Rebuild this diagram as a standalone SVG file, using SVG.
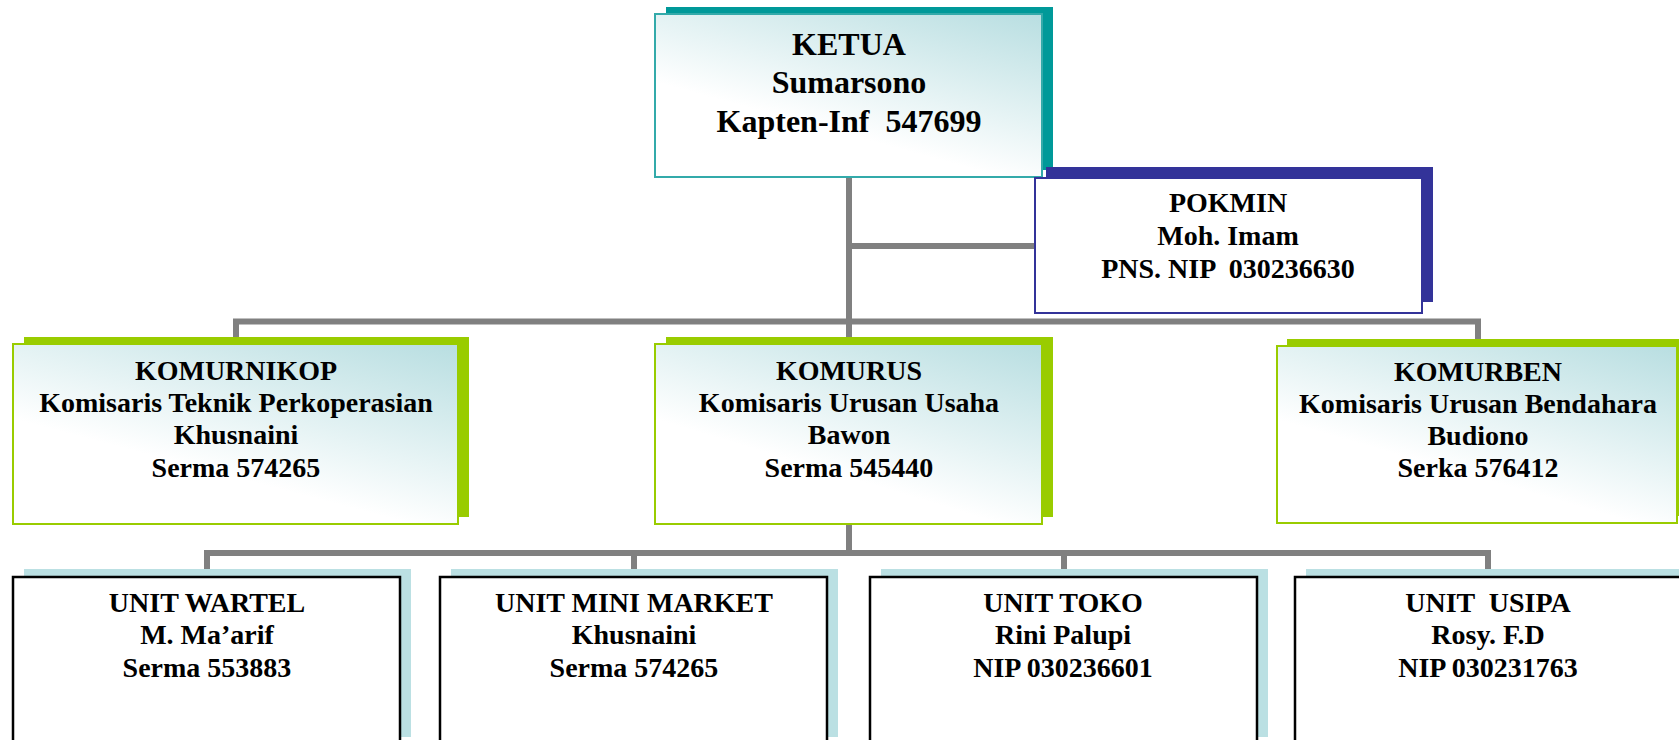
<svg xmlns="http://www.w3.org/2000/svg" width="1679" height="740" viewBox="0 0 1679 740">
<defs>
<linearGradient id="g" x1="100%" y1="0%" x2="35%" y2="100%">
<stop offset="0" stop-color="#b8dee1"/>
<stop offset="0.75" stop-color="#ffffff"/>
</linearGradient>
<style>
.t{font-family:"Liberation Serif","Times New Roman",serif;font-weight:bold;text-anchor:middle;fill:#000}
.t32{font-size:32px}
.t28{font-size:28px}
.con{fill:none;stroke:#808080;stroke-width:6}
.sh-teal{fill:#009999}
.sh-navy{fill:#333399}
.sh-green{fill:#99cc00}
.sh-blue{fill:#bbe0e3}
.f-teal{fill:url(#g);stroke:#33aaaa;stroke-width:2}
.f-navy{fill:#ffffff;stroke:#333399;stroke-width:2}
.f-green{fill:url(#g);stroke:#99cc00;stroke-width:2}
.f-unit{fill:#ffffff;stroke:#000000;stroke-width:2.5}
</style>
</defs>
<rect width="1679" height="740" fill="#ffffff"/>
<g id="connectors">
<path class="con" d="M849,170 V345"/>
<path class="con" d="M849,246 H1036"/>
<path class="con" d="M236,345 V321.5 H1478 V345"/>
<path class="con" d="M849,515 V553"/>
<path class="con" d="M207,572 V553 H1488 V572"/>
<path class="con" d="M634,553 V572"/>
<path class="con" d="M1064,553 V572"/>
</g>
<g id="ketua">
<rect class="sh-teal" x="666" y="7" width="387" height="163"/>
<rect class="f-teal" x="655" y="14" width="387" height="163"/>
<text class="t t32" x="849" y="55">KETUA</text>
<text class="t t32" x="849" y="93">Sumarsono</text>
<text class="t t32" x="849" y="132" xml:space="preserve">Kapten-Inf  547699</text>
</g>
<g id="pokmin">
<rect class="sh-navy" x="1046" y="167" width="387" height="135"/>
<rect class="f-navy" x="1035" y="178" width="387" height="135"/>
<text class="t t28" x="1228" y="212">POKMIN</text>
<text class="t t28" x="1228" y="245">Moh. Imam</text>
<text class="t t28" x="1228" y="278" xml:space="preserve">PNS. NIP  030236630</text>
</g>
<g id="komurnikop">
<rect class="sh-green" x="24" y="337" width="445" height="180"/>
<rect class="f-green" x="13" y="344" width="445" height="180"/>
<text class="t t28" x="236" y="380">KOMURNIKOP</text>
<text class="t t28" x="236" y="412">Komisaris Teknik Perkoperasian</text>
<text class="t t28" x="236" y="444">Khusnaini</text>
<text class="t t28" x="236" y="477">Serma 574265</text>
</g>
<g id="komurus">
<rect class="sh-green" x="666" y="337" width="387" height="180"/>
<rect class="f-green" x="655" y="344" width="387" height="180"/>
<text class="t t28" x="849" y="380">KOMURUS</text>
<text class="t t28" x="849" y="412">Komisaris Urusan Usaha</text>
<text class="t t28" x="849" y="444">Bawon</text>
<text class="t t28" x="849" y="477">Serma 545440</text>
</g>
<g id="komurben">
<rect class="sh-green" x="1287" y="339" width="420" height="177"/>
<rect class="f-green" x="1277" y="346" width="400" height="177"/>
<text class="t t28" x="1478" y="381">KOMURBEN</text>
<text class="t t28" x="1478" y="413">Komisaris Urusan Bendahara</text>
<text class="t t28" x="1478" y="445">Budiono</text>
<text class="t t28" x="1478" y="477">Serka 576412</text>
</g>
<g id="unit-wartel">
<rect class="sh-blue" x="24" y="569" width="387" height="168"/>
<rect class="f-unit" x="13" y="577" width="387" height="180"/>
<text class="t t28" x="207" y="612">UNIT WARTEL</text>
<text class="t t28" x="207" y="644">M. Ma’arif</text>
<text class="t t28" x="207" y="677">Serma 553883</text>
</g>
<g id="unit-mini-market">
<rect class="sh-blue" x="451" y="569" width="387" height="168"/>
<rect class="f-unit" x="440" y="577" width="387" height="180"/>
<text class="t t28" x="634" y="612">UNIT MINI MARKET</text>
<text class="t t28" x="634" y="644">Khusnaini</text>
<text class="t t28" x="634" y="677">Serma 574265</text>
</g>
<g id="unit-toko">
<rect class="sh-blue" x="881" y="569" width="387" height="168"/>
<rect class="f-unit" x="870" y="577" width="387" height="180"/>
<text class="t t28" x="1063" y="612">UNIT TOKO</text>
<text class="t t28" x="1063" y="644">Rini Palupi</text>
<text class="t t28" x="1063" y="677">NIP 030236601</text>
</g>
<g id="unit-usipa">
<rect class="sh-blue" x="1306" y="569" width="400" height="168"/>
<rect class="f-unit" x="1295" y="577" width="400" height="180"/>
<text class="t t28" x="1488" y="612" xml:space="preserve">UNIT  USIPA</text>
<text class="t t28" x="1488" y="644">Rosy. F.D</text>
<text class="t t28" x="1488" y="677">NIP 030231763</text>
</g>
</svg>
